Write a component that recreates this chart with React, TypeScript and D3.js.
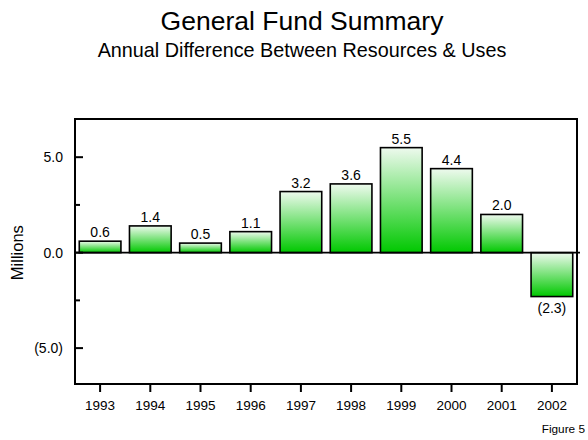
import React from "react";
import * as d3 from "d3";

const years = ["1993", "1994", "1995", "1996", "1997", "1998", "1999", "2000", "2001", "2002"];
const values = [0.6, 1.4, 0.5, 1.1, 3.2, 3.6, 5.5, 4.4, 2.0, -2.3];
const majorTicks = [5, 0, -5];
const minorTicks = [2.5, -2.5];

const W = 588;
const H = 440;
const left = 75;
const right = 577;
const top = 119;
const bottom = 384;
const font = "'Liberation Sans', Arial, Helvetica, sans-serif";

const fmt = (v: number) => (v < 0 ? `(${Math.abs(v).toFixed(1)})` : v.toFixed(1));

export default function App() {
  const x = d3.scaleBand<string>().domain(years).range([left, right]).paddingInner(0.17).paddingOuter(0.085);
  const y = d3.scaleLinear().domain([-6.88, 7]).range([bottom, top]);
  const y0 = y(0);

  return (
    <svg width={W} height={H} style={{ position: "absolute", left: 0, top: 0, background: "#fff" }} fontFamily={font}>
      <defs>
        <linearGradient id="barGrad" x1="0" y1="0" x2="0" y2="1">
          <stop offset="0%" stopColor="#eefaee" />
          <stop offset="100%" stopColor="#00c800" />
        </linearGradient>
      </defs>
      <text x={302} y={30} textAnchor="middle" fontSize={26.5} fill="#000">General Fund Summary</text>
      <text x={302} y={57} textAnchor="middle" fontSize={19.8} fill="#000">Annual Difference Between Resources &amp; Uses</text>

      {values.map((v, i) => {
        const bx = x(years[i])!;
        const yt = y(Math.max(v, 0));
        const yb = y(Math.min(v, 0));
        return (
          <g key={years[i]}>
            <rect x={bx} y={yt} width={x.bandwidth()} height={yb - yt} fill="url(#barGrad)" stroke="#000" strokeWidth={1.6} />
            <text
              x={bx + x.bandwidth() / 2}
              y={v >= 0 ? yt - 4 : yb + 16}
              textAnchor="middle"
              fontSize={14}
              fill="#000"
            >
              {fmt(v)}
            </text>
          </g>
        );
      })}

      <line x1={left} x2={right + 3} y1={y0} y2={y0} stroke="#000" strokeWidth={1.6} />
      <rect x={left} y={top} width={right - left} height={bottom - top} fill="none" stroke="#000" strokeWidth={2} />

      {majorTicks.map((t) => (
        <g key={t}>
          <line x1={left} x2={left + 8} y1={y(t)} y2={y(t)} stroke="#000" strokeWidth={2} />
          <text x={63} y={y(t) + 5} textAnchor="end" fontSize={14} fill="#000">{fmt(t)}</text>
        </g>
      ))}
      {minorTicks.map((t) => (
        <line key={t} x1={left} x2={left + 5} y1={y(t)} y2={y(t)} stroke="#000" strokeWidth={2} />
      ))}

      {years.map((yr) => {
        const cx = x(yr)! + x.bandwidth() / 2;
        return (
          <g key={yr}>
            <line x1={cx} x2={cx} y1={bottom} y2={bottom + 8} stroke="#000" strokeWidth={2} />
            <text x={cx} y={410} textAnchor="middle" fontSize={13.5} fill="#000">{yr}</text>
          </g>
        );
      })}

      <text transform={`translate(23,${y0}) rotate(-90)`} textAnchor="middle" fontSize={16.5} fill="#000">Millions</text>
      <text x={585} y={433} textAnchor="end" fontSize={11.8} fill="#000">Figure 5</text>
    </svg>
  );
}
